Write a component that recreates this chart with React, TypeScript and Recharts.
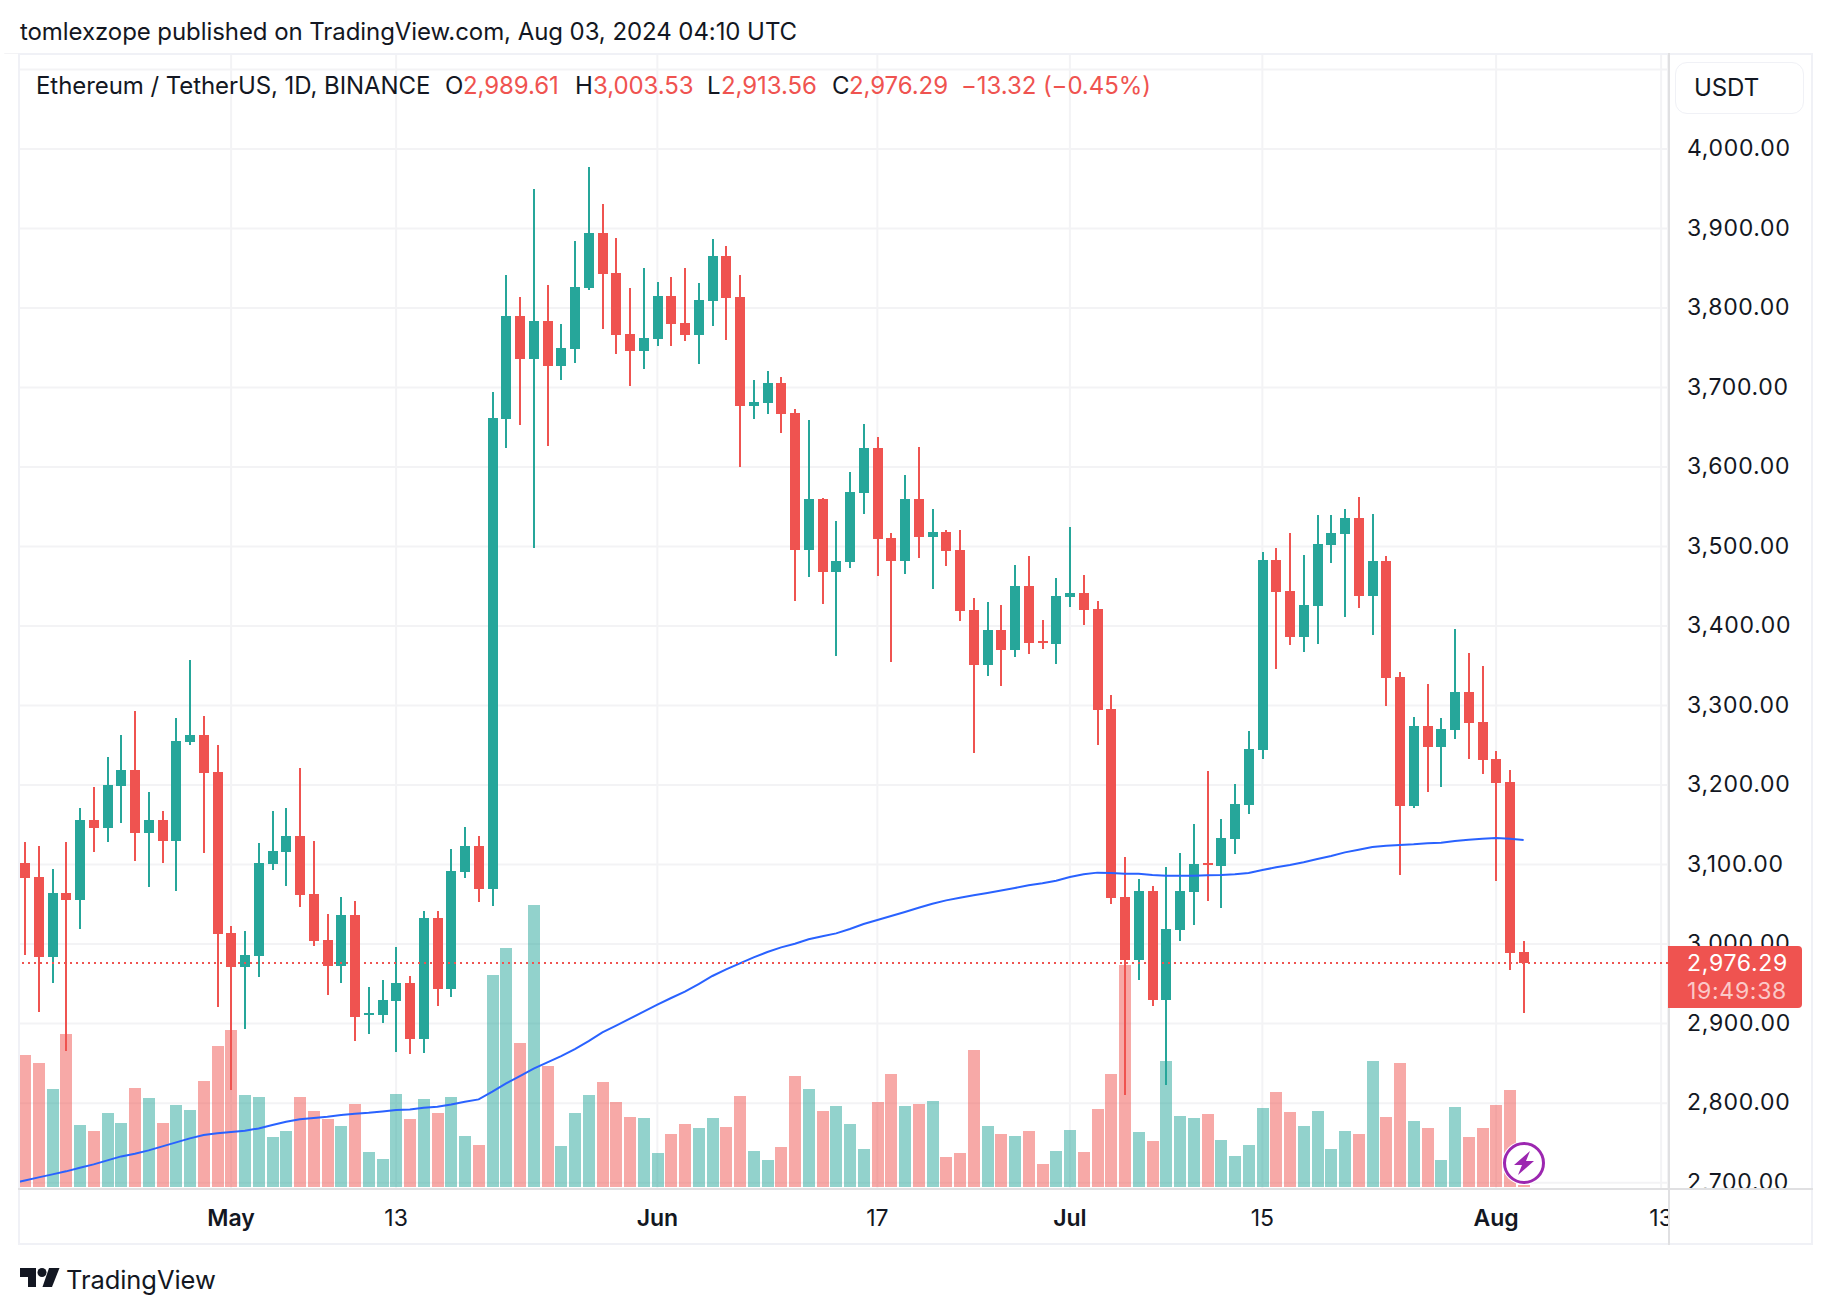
import React from "react";
import {
  Bar,
  CartesianGrid,
  ComposedChart,
  Line,
  ReferenceLine,
  XAxis,
  YAxis,
} from "recharts";

const FONT = "Inter, 'Noto Sans', sans-serif";
const INK = "#131722";
const UP = "#26a69a";
const DOWN = "#ef5350";
const GRID = "#f3f3f5";
const FRAME = "#f0f1f6";
const AXIS_LINE = "#e0e0e2";

// ETHUSDT daily, from 16 Apr 2024
const opens = [
  3102, 3084.4, 2983.8, 3064.3, 3055.5, 3156.1, 3146, 3198.9, 3219, 3139.8,
  3156.1, 3129.7, 3254.2, 3263, 3216.5, 3014, 2971.2, 2985, 3100.8, 3115.9,
  3136, 3063, 3005.2, 2972.5, 3036.6, 2910.9, 2910.9, 2928.4, 2951.1, 2880.7,
  3032.9, 2943.6, 3090.7, 3123.4, 3069.3, 3660.4, 3789.9, 3735.8, 3783.6, 3727,
  3748.4, 3825.1, 3894.3, 3844, 3767.3, 3745.9, 3761, 3815, 3781.1, 3766,
  3808.8, 3865.4, 3813.8, 3676.7, 3680.5, 3705.6, 3668, 3495.7, 3559.8, 3468,
  3480.6, 3567.4, 3624, 3510.8, 3481.8, 3559.8, 3512, 3518.3, 3495.7, 3420.2,
  3351, 3395.1, 3369.9, 3450.4, 3381.2, 3377.5, 3436.6, 3441.6, 3421.5, 3295.7,
  3059.3, 2980, 3066.8, 2929.7, 3017.8, 3065.5, 3102, 3098.2, 3132.2, 3175,
  3244.1, 3483.1, 3444.1, 3386.3, 3425.2, 3502, 3515.8, 3535.9, 3437.8, 3481.9,
  3335.9, 3173.7, 3274.3, 3247.9, 3269.3, 3317.1, 3279.4, 3232.8, 3203.9, 2989.61,
];
const highs = [
  3128.4, 3123.4, 3094.5, 3128.4, 3171.2, 3197.6, 3235.3, 3263, 3293.2, 3191.3,
  3167.4, 3284.4, 3357.3, 3286.9, 3250.4, 3022.8, 3016.5, 3127.2, 3167.4, 3171.2,
  3221.5, 3129.7, 3037.9, 3059.3, 3054.2, 2946.1, 2954.9, 2996.4, 2959.9, 3041.7,
  3041.7, 3119.6, 3147.3, 3136, 3694.4, 3841.5, 3813.8, 3949.6, 3828.9, 3779.9,
  3884.2, 3977.3, 3930.8, 3888, 3825.1, 3850.3, 3832.7, 3838.9, 3850.3, 3831.4,
  3886.8, 3878, 3841.5, 3709.4, 3720.7, 3713.2, 3673, 3659.2, 3561.1, 3532.2,
  3593.8, 3654.2, 3637.8, 3517.1, 3590, 3625.2, 3547.3, 3520.8, 3520.8, 3435.3,
  3430.3, 3426.5, 3476.8, 3488.1, 3407.6, 3460.5, 3524.6, 3464.2, 3431.5, 3313.3,
  3109.6, 3081.9, 3073.1, 3097, 3114.6, 3151.1, 3217.7, 3157.3, 3201.4, 3268,
  3493.2, 3498.2, 3517, 3489.4, 3539.7, 3539.7, 3547.2, 3562.3, 3541, 3488.1,
  3342.2, 3285.6, 3327.1, 3284.4, 3396.3, 3366.1, 3349.8, 3242.9, 3219, 3003.53,
];
const lows = [
  2986.3, 2914.6, 2951.1, 2865.6, 3019, 3115.9, 3128.4, 3152.3, 3104.5, 3071.8,
  3102, 3066.8, 3250.4, 3114.6, 2920.9, 2816.5, 2893.2, 2958.6, 3093.2, 3073.1,
  3046.7, 2997.6, 2936, 2951.1, 2878.2, 2887, 2900.8, 2864.3, 2861.8, 2863.1,
  2922.2, 2933.5, 3083.2, 3053, 3047.9, 3623.9, 3652.8, 3498.1, 3626.4, 3709.4,
  3730.8, 3822.6, 3773.6, 3742.1, 3701.9, 3723.3, 3752.2, 3752.2, 3758.5, 3729.6,
  3777.3, 3759.7, 3600, 3660.4, 3666.7, 3642.8, 3431.5, 3461.7, 3427.8, 3362.4,
  3473.1, 3541, 3463, 3354.8, 3465.5, 3485.6, 3446.6, 3475.6, 3406.4, 3240.4,
  3337.2, 3324.6, 3361.1, 3364.9, 3371.2, 3352.3, 3424, 3401.4, 3250.4, 3050.5,
  2810.2, 2954.9, 2922.2, 2822.8, 3003.9, 3024, 3054.2, 3045.4, 3113.3, 3163.6,
  3232.8, 3346, 3376.2, 3367.4, 3377.5, 3479.3, 3411.4, 3422.7, 3388.8, 3299.5,
  3086.9, 3171.2, 3191.3, 3197.6, 3258, 3232.8, 3213.9, 3079.4, 2967.4, 2913.56,
];
const closes = [
  3083.2, 2983.8, 3064.3, 3055.5, 3156.1, 3146, 3200.1, 3219, 3139.8, 3156.1,
  3129.7, 3255.5, 3263, 3215.2, 3012.7, 2971.2, 2986.3, 3102, 3117.1, 3136,
  3061.8, 3003.9, 2972.5, 3036.6, 2908.3, 2913.4, 2929.7, 2951.1, 2880.7, 3032.9,
  2943.6, 3092, 3123.4, 3069.3, 3661.7, 3789.9, 3735.8, 3783.6, 3727, 3749.7,
  3826.4, 3894.3, 3842.7, 3766, 3745.9, 3762.3, 3815, 3779.9, 3766, 3810,
  3865.4, 3812.6, 3676.7, 3681.7, 3705.6, 3666.7, 3495.7, 3559.8, 3468, 3481.8,
  3568.6, 3624, 3509.5, 3481.8, 3559.8, 3512, 3518.3, 3494.4, 3419, 3351,
  3395.1, 3369.9, 3450.4, 3378.7, 3378.7, 3437.8, 3441.6, 3420.2, 3294.5, 3058,
  2980, 3066.8, 2929.7, 3019, 3066.8, 3100.8, 3099.5, 3133.5, 3176.2, 3245.4,
  3483.1, 3442.9, 3386.3, 3426.5, 3503.2, 3517, 3535.9, 3437.8, 3481.9, 3334.7,
  3173.7, 3274.3, 3247.9, 3270.5, 3317.1, 3278.1, 3231.6, 3202.6, 2989.2, 2976.29,
];
const volumes = [
  131.7, 123.7, 97.7, 152.7, 61.7, 55.7, 73.7, 63.7, 98.7, 88.7,
  63.7, 81.7, 76.7, 105.7, 140.7, 156.7, 91.7, 89.7, 49.7, 55.7,
  89.7, 75.7, 67.7, 60.7, 82.7, 34.7, 27.7, 92.7, 67.7, 87.7,
  73.7, 89.7, 50.7, 41.7, 211.7, 238.7, 143.7, 281.7, 120.7, 40.7,
  73.7, 91.7, 104.7, 84.7, 69.7, 68.7, 33.7, 52.7, 62.7, 58.7,
  68.7, 59.7, 90.7, 35.7, 26.7, 39.7, 110.7, 97.7, 75.7, 80.7,
  62.7, 37.7, 84.7, 112.7, 80.7, 82.7, 85.7, 29.7, 33.7, 136.7,
  60.7, 52.7, 50.7, 55.7, 22.7, 35.7, 56.7, 34.7, 77.7, 112.7,
  221.7, 54.7, 45.7, 125.7, 70.7, 68.7, 72.7, 46.7, 30.7, 41.7,
  78.7, 94.7, 74.7, 60.7, 75.7, 37.7, 55.7, 52.7, 125.7, 69.7,
  123.7, 65.7, 58.7, 26.7, 79.7, 49.7, 58.7, 81.7, 96.7, 1.5,
];
// starts one day earlier than the candles: the line runs in from the left edge
const movingAverage = [
  2699,
  2702.8, 2706.6, 2710.4, 2714.2, 2718.8, 2723, 2728, 2733, 2736.4, 2740.6,
  2745.6, 2750.6, 2755.7, 2759.9, 2762, 2763.6, 2765.3, 2768.2, 2772.4, 2776.6,
  2779.6, 2781.2, 2782.9, 2785, 2786.7, 2787.9, 2789.6, 2791.3, 2792.1, 2794.2,
  2795.5, 2798.4, 2801.8, 2804.7, 2814.4, 2824.9, 2834.1, 2843.3, 2851.3, 2859.2,
  2868, 2878.1, 2889, 2897.4, 2906.2, 2915, 2923.8, 2932.2, 2940.2, 2949.8,
  2959.9, 2968.2, 2975.8, 2983.3, 2990.1, 2995.9, 3000.5, 3006, 3009.8, 3013.5,
  3019, 3025.3, 3030.3, 3035.3, 3040.4, 3045.8, 3050.8, 3055, 3058.4, 3061.4,
  3064.3, 3067.3, 3070.6, 3074, 3076.5, 3079.8, 3084.4, 3087.8, 3089.9, 3089.4,
  3088.6, 3088.6, 3086.9, 3086.1, 3086.1, 3086.1, 3086.5, 3086.9, 3087.8, 3089.4,
  3093.2, 3096.6, 3099.5, 3102.9, 3107, 3110.8, 3115.4, 3118.8, 3122.1, 3123.8,
  3124.7, 3125.5, 3126.8, 3127.6, 3129.7, 3131.4, 3132.6, 3133.5, 3132.6, 3131,
];

const priceTicks = [2700, 2800, 2900, 3000, 3100, 3200, 3300, 3400, 3500, 3600, 3700, 3800, 3900, 4000, 4100];
const timeTicks = ["2024-05-01", "2024-05-13", "2024-06-01", "2024-06-17", "2024-07-01", "2024-07-15", "2024-08-01", "2024-08-13"];
const timeLabels = ["May", "13", "Jun", "17", "Jul", "15", "Aug", "13"];
const monthTicks = ["2024-05-01", "2024-06-01", "2024-07-01", "2024-08-01"];

// 15 Apr (line only), 110 sessions, then the empty days right of the last candle
const dates: string[] = [];
for (let i = 0; i < 121; i++) {
  dates.push(new Date(Date.UTC(2024, 3, 15 + i)).toISOString().slice(0, 10));
}

const data = dates.map((date, i) => {
  const c = i - 1;
  const hasCandle = c >= 0 && c < lows.length;
  return {
    date,
    range: hasCandle ? [lows[c], highs[c]] : null,
    open: opens[c],
    high: highs[c],
    low: lows[c],
    close: closes[c],
    volume: hasCandle ? volumes[c] : null,
    ma: movingAverage[i] ?? null,
  };
});

const lastClose = 2976.29;

const Candle = (props: any) => {
  const { x, y, width, height, payload } = props;
  if (payload.range == null) return null;
  const { open, high, low, close } = payload;
  const color = close >= open ? UP : DOWN;
  const toY = (v: number) => y + ((high - v) / (high - low)) * height;
  const left = Math.round(x + width / 2 - 5);
  const top = Math.round(toY(Math.max(open, close)));
  const bottom = Math.round(toY(Math.min(open, close)));
  return (
    <g shapeRendering="crispEdges">
      <rect x={left + 4} y={y} width={2} height={height} fill={color} />
      <rect x={left} y={top} width={10} height={Math.max(bottom - top, 2)} fill={color} />
    </g>
  );
};

const VolumeBar = (props: any) => {
  const { x, y, width, height, payload } = props;
  if (payload.volume == null) return null;
  const color = payload.close >= payload.open ? UP : DOWN;
  return (
    <rect
      x={Math.round(x + width / 2 - 6)}
      y={y}
      width={12}
      height={height}
      fill={color}
      fillOpacity={0.5}
      shapeRendering="crispEdges"
    />
  );
};

const PriceTick = (props: any) => {
  const { x, y, payload } = props;
  if (payload.value === 4100) return null;
  const label = payload.value.toLocaleString("en-US", { minimumFractionDigits: 2 });
  return (
    <g>
      <clipPath id={`price-clip-${payload.value}`}>
        <rect x={x - 10} y={0} width={144} height={1188} />
      </clipPath>
      <text
        x={x + 11}
        y={y + 7}
        fontFamily={FONT}
        fontSize={23}
        letterSpacing={0.7}
        fill={INK}
        clipPath={`url(#price-clip-${payload.value})`}
      >
        {label}
      </text>
    </g>
  );
};

const TimeTick = (props: any) => {
  const { x, y, payload, index } = props;
  const isMonth = monthTicks.includes(payload.value);
  return (
    <g>
      <clipPath id={`time-clip-${index}`}>
        <rect x={0} y={y} width={1668} height={60} />
      </clipPath>
      <text
        x={x}
        y={1226}
        textAnchor="middle"
        fontFamily={FONT}
        fontSize={23}
        fontWeight={isMonth ? 600 : 400}
        fill={INK}
        clipPath={`url(#time-clip-${index})`}
      >
        {timeLabels[timeTicks.indexOf(payload.value)]}
      </text>
    </g>
  );
};

const Label = ({ left, top, color = INK, size = 24, spacing = -0.07, children }: any) => (
  <div
    style={{
      position: "absolute",
      left,
      top,
      color,
      fontFamily: FONT,
      fontSize: size,
      letterSpacing: spacing,
      lineHeight: "30px",
      whiteSpace: "nowrap",
    }}
  >
    {children}
  </div>
);

const Rule = ({ left, top, width, height, color }: any) => (
  <div style={{ position: "absolute", left, top, width, height, background: color }} />
);

export default function App() {
  return (
    <div style={{ position: "absolute", left: 0, top: 0, width: 1832, height: 1314, background: "#fff", overflow: "hidden" }}>
      <ComposedChart
        width={1832}
        height={1314}
        data={data}
        margin={{ top: 54, right: 20, bottom: 70, left: 4.25 }}
      >
        <CartesianGrid xAxisId="main" yAxisId="price" stroke={GRID} strokeWidth={2} />
        <XAxis
          xAxisId="main"
          dataKey="date"
          ticks={timeTicks}
          interval={0}
          height={55}
          axisLine={false}
          tickLine={false}
          tick={<TimeTick />}
        />
        <XAxis xAxisId="vol" dataKey="date" hide />
        <YAxis
          yAxisId="price"
          orientation="right"
          width={144}
          domain={[2692, 4119.5]}
          ticks={priceTicks}
          interval={0}
          axisLine={false}
          tickLine={false}
          tick={<PriceTick />}
        />
        <YAxis yAxisId="vol" hide domain={[-2.3, 1132.7]} />
        <Line
          xAxisId="main"
          yAxisId="price"
          dataKey="ma"
          stroke="#2962ff"
          strokeWidth={2}
          dot={false}
          isAnimationActive={false}
        />
        <Bar xAxisId="vol" yAxisId="vol" dataKey="volume" barSize={12} shape={<VolumeBar />} isAnimationActive={false} />
        <Bar xAxisId="main" yAxisId="price" dataKey="range" barSize={10} shape={<Candle />} isAnimationActive={false} />
        <ReferenceLine
          xAxisId="main"
          yAxisId="price"
          y={lastClose}
          stroke={DOWN}
          strokeWidth={2}
          strokeDasharray="2 4"
        />
      </ComposedChart>

      {/* hides the extra day left of the frame */}
      <Rule left={0} top={54} width={18} height={1190} color="#fff" />

      {/* frame and axis rules */}
      <Rule left={18} top={53} width={1795} height={2} color={FRAME} />
      <Rule left={18} top={53} width={2} height={1192} color={FRAME} />
      <Rule left={1811} top={53} width={2} height={1192} color={FRAME} />
      <Rule left={18} top={1243} width={1795} height={2} color={FRAME} />
      <Rule left={18} top={1188} width={1795} height={2} color={AXIS_LINE} />
      <Rule left={1668} top={53} width={2} height={1192} color={AXIS_LINE} />

      <Label left={20} top={17}>tomlexzope published on TradingView.com, Aug 03, 2024 04:10 UTC</Label>

      <Label left={36} top={71}>Ethereum / TetherUS, 1D, BINANCE</Label>
      <Label left={445} top={71}>O</Label>
      <Label left={463} top={71} color={DOWN}>2,989.61</Label>
      <Label left={575} top={71}>H</Label>
      <Label left={593} top={71} color={DOWN}>3,003.53</Label>
      <Label left={707} top={71}>L</Label>
      <Label left={721} top={71} color={DOWN}>2,913.56</Label>
      <Label left={832} top={71}>C</Label>
      <Label left={849} top={71} color={DOWN}>2,976.29</Label>
      <Label left={961} top={71} color={DOWN}>−13.32 (−0.45%)</Label>

      {/* currency button */}
      <div
        style={{
          position: "absolute",
          left: 1675,
          top: 62,
          width: 127,
          height: 50,
          border: `1px solid ${FRAME}`,
          borderRadius: 12,
          background: "#fff",
        }}
      />
      <Label left={1694} top={73}>USDT</Label>

      {/* last price tag */}
      <div
        style={{
          position: "absolute",
          left: 1668,
          top: 946,
          width: 134,
          height: 62,
          background: DOWN,
          borderRadius: "0 4px 4px 0",
        }}
      />
      <Label left={1687} top={948} color="#fff" size={23} spacing={0.7}>2,976.29</Label>
      <Label left={1687} top={976} color="#fbc9c8" size={23} spacing={0.7}>19:49:38</Label>

      {/* chart event marker */}
      <svg style={{ position: "absolute", left: 1500, top: 1139 }} width={48} height={48}>
        <circle cx={24} cy={24} r={22} fill="#fff" />
        <circle cx={24} cy={24} r={19.5} fill="#fff" stroke="#9c27b0" strokeWidth={3} />
        <polygon points="30,12 14,26 22,26 18,36 34,22 26,22" fill="#9c27b0" />
      </svg>

      {/* TradingView logo */}
      <svg style={{ position: "absolute", left: 20, top: 1268 }} width={40} height={20}>
        <polygon points="0,0 16,0 16,19 8,19 8,9 0,9" fill={INK} />
        <circle cx={22} cy={4.5} r={4.5} fill={INK} />
        <polygon points="29,0 39.5,0 32,19 22.5,19" fill={INK} />
      </svg>
      <Label left={66} top={1265} size={25.5}>TradingView</Label>
    </div>
  );
}
